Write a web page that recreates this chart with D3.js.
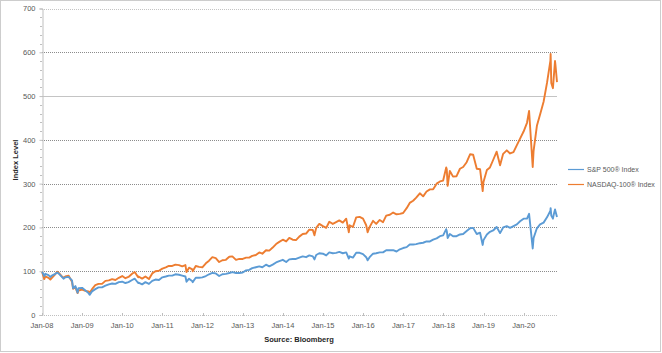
<!DOCTYPE html>
<html><head><meta charset="utf-8">
<script src="https://cdn.jsdelivr.net/npm/d3@7"></script>
<style>
html,body{margin:0;padding:0;background:#fff;}
svg{display:block;}
text{font-family:"Liberation Sans",Arial,sans-serif;}
</style></head>
<body>
<svg id="chart" width="662" height="353"></svg>
<script>
const dates = [
"2008-01-02","2008-01-22","2008-01-31","2008-02-29","2008-03-17","2008-03-31","2008-04-30","2008-05-19","2008-05-30","2008-06-30","2008-07-15","2008-07-31","2008-08-29","2008-09-30","2008-10-10","2008-10-31","2008-11-20","2008-11-28","2008-12-31",
"2009-01-30","2009-02-27","2009-03-09","2009-03-31","2009-04-30","2009-05-29","2009-06-30","2009-07-31","2009-08-31","2009-09-30","2009-10-30","2009-11-30","2009-12-31",
"2010-01-29","2010-02-26","2010-03-31","2010-04-23","2010-04-30","2010-05-25","2010-05-28","2010-06-30","2010-07-30","2010-08-31","2010-09-30","2010-10-29","2010-11-30","2010-12-31",
"2011-01-31","2011-02-28","2011-03-31","2011-04-29","2011-05-31","2011-06-30","2011-07-29","2011-08-08","2011-08-31","2011-09-30","2011-10-03","2011-10-31","2011-11-30","2011-12-30",
"2012-01-31","2012-02-29","2012-03-30","2012-04-30","2012-05-31","2012-06-29","2012-07-31","2012-08-31","2012-09-28","2012-10-31","2012-11-30","2012-12-31",
"2013-01-31","2013-02-28","2013-03-28","2013-04-30","2013-05-31","2013-06-28","2013-07-31","2013-08-30","2013-09-30","2013-10-31","2013-11-29","2013-12-31",
"2014-01-31","2014-02-28","2014-03-31","2014-04-30","2014-05-30","2014-06-30","2014-07-31","2014-08-29","2014-09-30","2014-10-15","2014-10-31","2014-11-28","2014-12-31",
"2015-01-30","2015-02-27","2015-03-31","2015-04-30","2015-05-29","2015-06-30","2015-07-31","2015-08-24","2015-08-31","2015-09-30","2015-10-30","2015-11-30","2015-12-31",
"2016-01-29","2016-02-11","2016-02-29","2016-03-31","2016-04-29","2016-05-31","2016-06-30","2016-07-29","2016-08-31","2016-09-30","2016-10-31","2016-11-30","2016-12-30",
"2017-01-31","2017-02-28","2017-03-31","2017-04-28","2017-05-31","2017-06-30","2017-07-31","2017-08-31","2017-09-29","2017-10-31","2017-11-30","2017-12-29",
"2018-01-26","2018-01-31","2018-02-08","2018-02-28","2018-03-29","2018-04-30","2018-05-31","2018-06-29","2018-07-31","2018-08-31","2018-09-28","2018-10-31","2018-11-30","2018-12-24","2018-12-31",
"2019-01-31","2019-02-28","2019-03-29","2019-04-30","2019-05-31","2019-06-28","2019-07-31","2019-08-30","2019-09-30","2019-10-31","2019-11-29","2019-12-31",
"2020-01-31","2020-02-19","2020-03-23","2020-03-31","2020-04-30","2020-05-29","2020-06-30","2020-07-31","2020-08-31","2020-09-02","2020-09-08","2020-09-23","2020-09-30","2020-10-12","2020-10-16","2020-10-30"
];
const spx = [
98.6,89,94,91,87,90,94,97,95,87,83,86,87,79,61,66,51,61,62,
56,50,46,54,59,63,63,67,70,72,71,75,76,
73,75,80,83,81,73,74,70,75,71,78,81,80,86,
88,90,90,93,92,90,88,76,83,77,75,85,85,86,
89,93,96,95,89,93,94,96,98,96,96,97,
102,103,107,109,111,109,115,111,115,120,123,126,
121,127,128,128,131,134,132,136,134,127,137,141,140,
136,143,141,142,144,141,143,129,134,131,142,142,139,
132,125,132,140,141,143,143,148,148,148,145,150,153,
155,161,161,162,164,165,168,168,172,175,180,182,
196,192,176,185,180,180,184,185,192,198,199,185,188,160,171,
184,190,193,201,187,200,203,199,203,207,214,220,
220,231,152,176,198,207,211,223,238,244,227,220,229,241,237,224
];
const ndx = [
98,82,88,85,81,85,93,99,97,88,85,88,90,76,60,63,50,56,58,
55,54,51,59,68,71,71,78,79,82,80,85,89,
84,87,94,98,96,86,88,83,88,82,95,100,101,106,
109,112,112,115,114,111,114,98,108,104,100,112,110,109,
118,124,132,130,121,125,126,133,134,126,128,128,
131,131,135,137,143,140,148,147,154,162,167,172,
168,176,172,171,179,185,186,195,194,182,199,208,203,
199,213,208,212,216,211,220,189,205,201,223,224,220,
205,189,201,215,208,217,212,227,229,234,230,231,233,
244,256,261,268,278,271,282,287,287,300,305,307,
337,333,295,329,316,317,334,338,349,367,366,334,333,283,304,
331,337,354,373,342,368,376,369,372,388,403,419,
439,466,338,375,432,458,487,530,581,596,530,518,541,580,571,532
];
const seriesNames = ["S&P 500\u00AE Index","NASDAQ-100\u00AE Index"];
const seriesColors = ["#5b9bd5","#ed7d31"];
const yTicks = [0,100,200,300,400,500,600,700];
const xTickYears = [2008,2009,2010,2011,2012,2013,2014,2015,2016,2017,2018,2019,2020];

const svg = d3.select("#chart");
const parse = d3.timeParse("%Y-%m-%d");
const D = dates.map(parse);
const L = 42, R = 557, T = 8.5, B = 315;
const x = d3.scaleTime().domain([new Date(2008,0,1), D[D.length-1]]).range([L,R]);
const y = d3.scaleLinear().domain([0,700]).range([B,T]);

// outer dotted border
svg.append("rect").attr("x",0.5).attr("y",0.5).attr("width",660).attr("height",351)
  .attr("fill","none").attr("stroke","#9a9a9a").attr("stroke-dasharray","1,1");

// gridlines
svg.append("g").selectAll("line").data(yTicks.filter(d=>d>0)).join("line")
  .attr("x1",L).attr("x2",R).attr("y1",d=>Math.round(y(d))+0.5).attr("y2",d=>Math.round(y(d))+0.5)
  .attr("stroke",d=>(d===700||d===500)?"#c4c4c4":"#8c8c8c")
  .attr("stroke-dasharray",d=>d===500?null:"1,1");

// y axis
const yAxis = d3.axisLeft(y).tickValues(yTicks).tickSize(3).tickPadding(4).tickFormat(d3.format("d"));
const gy = svg.append("g").attr("transform",`translate(${L+0.5},0)`).call(yAxis);
gy.select(".domain").attr("stroke","#bfbfbf");
gy.selectAll(".tick line").attr("stroke","#bfbfbf");
gy.selectAll(".tick text").attr("fill","#595959").style("font-size","7.5px");
// minor y ticks
const minor = d3.range(0,701,20).filter(d=>d%100!==0);
svg.append("g").selectAll("line").data(minor).join("line")
  .attr("x1",L-2).attr("x2",L).attr("y1",d=>Math.round(y(d))+0.5).attr("y2",d=>Math.round(y(d))+0.5)
  .attr("stroke","#bfbfbf");

// x axis
svg.append("line").attr("x1",L).attr("x2",R).attr("y1",B+0.5).attr("y2",B+0.5)
  .attr("stroke","#bfbfbf").attr("stroke-dasharray","1,1");
const xt = xTickYears.map(yr=>new Date(yr,0,1));
const gx = svg.append("g");
gx.selectAll("line").data(xt).join("line")
  .attr("x1",d=>Math.round(x(d))+0.5).attr("x2",d=>Math.round(x(d))+0.5)
  .attr("y1",B-2).attr("y2",B+1).attr("stroke","#bfbfbf");
gx.selectAll("text").data(xt).join("text")
  .attr("x",d=>x(d)).attr("y",B+13).attr("text-anchor","middle")
  .attr("fill","#595959").style("font-size","7.5px")
  .text(d=>d3.timeFormat("Jan-%y")(d));

// lines
const vals = [spx, ndx];
const line = d3.line().x((d,i)=>x(D[i])).y(d=>y(d)).curve(d3.curveLinear);
[1,0].forEach(k=>{
  svg.append("path").datum(vals[k]).attr("d",line)
    .attr("fill","none").attr("stroke",seriesColors[k]).attr("stroke-width",1.9)
    .attr("stroke-linejoin","round");
});

// axis titles
svg.append("text").attr("transform","translate(18,160) rotate(-90)")
  .attr("text-anchor","middle").attr("fill","#262626").style("font-size","7.5px").style("font-weight","bold")
  .text("Index Level");
svg.append("text").attr("x",299).attr("y",342).attr("text-anchor","middle")
  .attr("fill","#262626").style("font-size","7.5px").style("font-weight","bold")
  .text("Source: Bloomberg");

// legend
const lg = svg.append("g");
seriesNames.forEach((n,i)=>{
  const yy = 169.5 + i*15;
  lg.append("line").attr("x1",568).attr("x2",584).attr("y1",yy).attr("y2",yy)
    .attr("stroke",seriesColors[i]).attr("stroke-width",1.2);
  lg.append("text").attr("x",587).attr("y",yy+2.5).attr("fill","#595959").style("font-size","7px").text(n);
});
</script>
</body></html>
